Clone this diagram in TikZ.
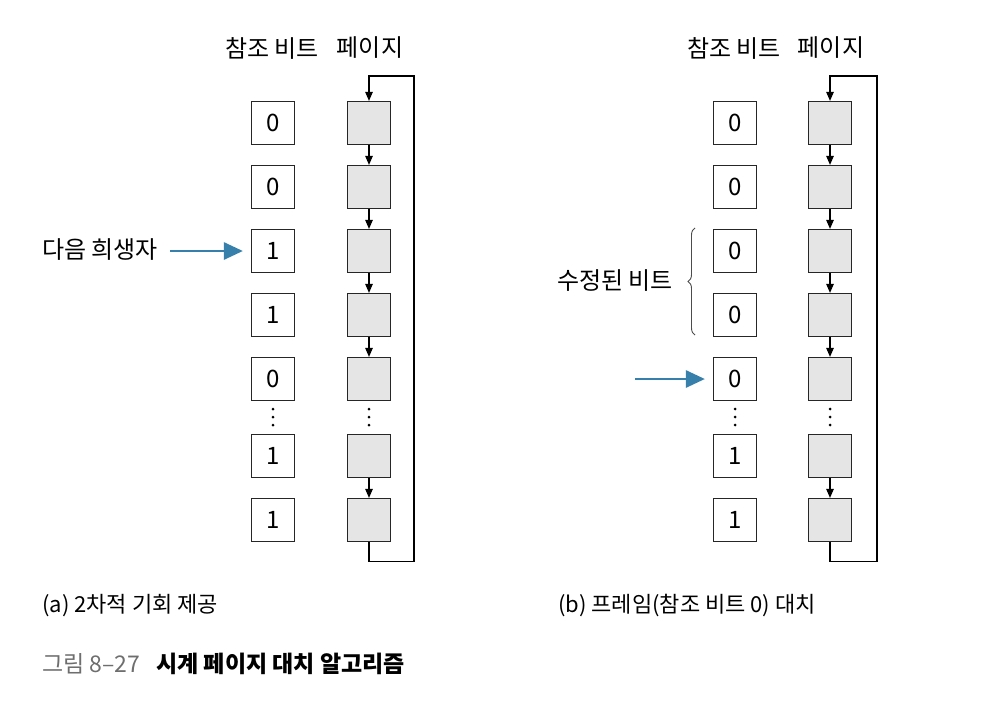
\documentclass[tikz,border=0pt]{standalone}
\usepackage{fontspec}
\setmainfont{Noto Sans CJK KR}
\usetikzlibrary{arrows.meta,decorations.pathreplacing}
\definecolor{victimblue}{RGB}{56,128,172}
\definecolor{framegray}{RGB}{229,229,229}
\definecolor{capgray}{RGB}{110,110,110}
\tikzset{
  bitbox/.style={draw=black!85,line width=1.2pt,minimum size=43pt,inner sep=0pt},
  pagebox/.style={bitbox,fill=framegray},
  link/.style={-{Triangle[length=9pt,width=7.5pt]},line width=1.1pt},
  victim/.style={-{Triangle[length=19pt,width=17pt]},line width=2.8pt,victimblue,shorten >=8pt},
  label/.style={inner sep=0pt},
  subcap/.style={label,anchor=west,font=\fontsize{22}{26}\selectfont}
}
\begin{document}
\begin{tikzpicture}[x=1pt,y=-1pt,font=\fontsize{24}{28}\selectfont]
\useasboundingbox (0,0) rectangle (992,702);
% (a) second chance
\node[label] (headA) at (272,48) {참조 비트};
\node[label] (headPA) at (370,48) {페이지};
\foreach \i/\y/\b in {1/123/0,2/187/0,3/251/1,4/315/1,5/379/0,6/456/1,7/520/1} {
  \node[bitbox] (bitA\i) at (273,\y) {\b};
  \node[pagebox] (pageA\i) at (369,\y) {};
}
\foreach \i in {1,2,3,4,6} {
  \pgfmathtruncatemacro\j{\i+1}
  \draw[link] (pageA\i.south) -- (pageA\j.north);
}
\foreach \d in {409,417,425} {
  \fill (273,\d) circle (1.5);
  \fill (369,\d) circle (1.5);
}
\coordinate (loopA) at (414,76);
\draw[link] (pageA7.south) -- ++(0,19) -| (loopA) -| (pageA1.north);
\node[label,anchor=east] (nextA) at (158,250) {다음 희생자};
\draw[victim] (170,251) -- (bitA3.west);
% (b) replace frame with reference bit 0
\node[label] (headB) at (734,48) {참조 비트};
\node[label] (headPB) at (831,48) {페이지};
\foreach \i/\y/\b in {1/123/0,2/187/0,3/251/0,4/315/0,5/379/0,6/456/1,7/520/1} {
  \node[bitbox] (bitB\i) at (735,\y) {\b};
  \node[pagebox] (pageB\i) at (830,\y) {};
}
\foreach \i in {1,2,3,4,6} {
  \pgfmathtruncatemacro\j{\i+1}
  \draw[link] (pageB\i.south) -- (pageB\j.north);
}
\foreach \d in {409,417,425} {
  \fill (735,\d) circle (1.5);
  \fill (830,\d) circle (1.5);
}
\coordinate (loopB) at (877,76);
\draw[link] (pageB7.south) -- ++(0,19) -| (loopB) -| (pageB1.north);
\draw[black!70,line width=0.9pt,decorate,decoration={brace,amplitude=7pt}]
  (695,335) -- (695,228);
\node[label,anchor=east] (modB) at (673,281) {수정된 비트};
\coordinate (victimB) at (635,379);
\draw[victim] (victimB) -- (bitB5.west);
% captions
\node[subcap] (capA) at (42,606) {(a) 2차적 기회 제공};
\node[subcap] (capB) at (558,606) {(b) 프레임(참조 비트 0) 대치};
\node[label,anchor=west,font=\fontsize{23}{27}\selectfont] (figcap) at (42,664)
  {{\color{capgray}그림 8–27}\hspace{16pt}{\bfseries 시계 페이지 대치 알고리즘}};
\end{tikzpicture}
\end{document}
